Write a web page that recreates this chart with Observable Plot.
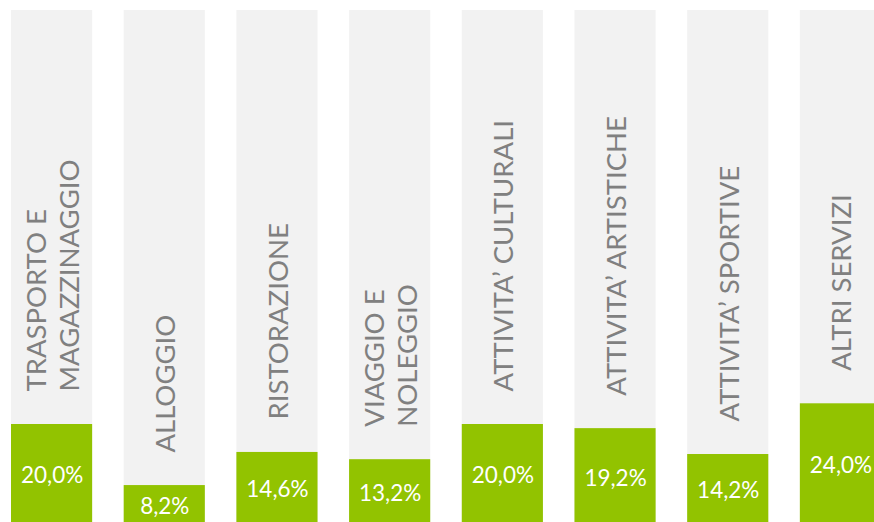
<!DOCTYPE html>
<html>
<head>
<meta charset="utf-8">
<script src="https://cdn.jsdelivr.net/npm/d3@7"></script>
<script src="https://cdn.jsdelivr.net/npm/@observablehq/plot@0.6"></script>
<style>
  html, body { margin: 0; padding: 0; overflow: hidden; background: #fff; }
  #chart { width: 874px; height: 522px; overflow: hidden; }
</style>
</head>
<body>
<div id="chart"></div>
<script>
const categories = [
  "TRASPORTO E\nMAGAZZINAGGIO",
  "ALLOGGIO",
  "RISTORAZIONE",
  "VIAGGIO E\nNOLEGGIO",
  "ATTIVITA’ CULTURALI",
  "ATTIVITA’ ARTISTICHE",
  "ATTIVITA’ SPORTIVE",
  "ALTRI SERVIZI"
];
const values = [20.0, 8.2, 14.6, 13.2, 20.0, 19.2, 14.2, 24.0];
const valueLabels = ["20,0%", "8,2%", "14,6%", "13,2%", "20,0%", "19,2%", "14,2%", "24,0%"];
const total = 100;

const data = categories.map((c, i) => ({cat: c, value: values[i], label: valueLabels[i], total}));

const chart = Plot.plot({
  width: 874,
  height: 528,
  marginTop: 10,
  marginBottom: 0,
  marginLeft: 0,
  marginRight: 0,
  style: {background: "transparent", overflow: "visible"},
  x: {domain: categories, range: [11, 881], paddingInner: 0.28, paddingOuter: 0, round: false, axis: null},
  y: {domain: [0, 100], range: [527.5, 10], axis: null},
  marks: [
    Plot.barY(data, {x: "cat", y: "total", fill: "#f2f2f2"}),
    Plot.barY(data, {x: "cat", y: "value", fill: "#92c300"}),
    Plot.text(data, {
      x: "cat", y: "value", text: "cat",
      rotate: -90, textAnchor: "start", dy: -33,
      fill: "#808080", fontSize: 27.5, fontWeight: 400,
      fontFamily: "Lato, 'Open Sans', sans-serif",
      lineHeight: 1.2
    }),
    Plot.text(data, {
      x: "cat", y: d => d.value / 2, text: "label",
      fill: "white", fontSize: 22.5,
      fontFamily: "Lato, 'Open Sans', sans-serif"
    })
  ]
});
document.getElementById("chart").appendChild(chart);
</script>
</body>
</html>
